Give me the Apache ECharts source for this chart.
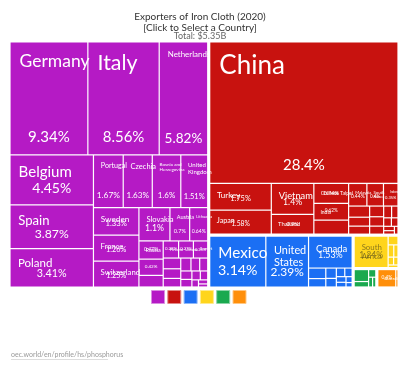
<!DOCTYPE html>
<html><head><meta charset="utf-8">
<script src="https://cdn.jsdelivr.net/npm/echarts@6/dist/echarts.min.js"></script>
<style>html,body{margin:0;padding:0;background:#fff}#c{width:400px;height:371px}</style>
</head><body><div id="c"></div>
<script>
// ---- data (share of exports, %) ----
const continentNames = ['Europe', 'Asia', 'North America', 'Africa', 'South America', 'Oceania'];
const continentColors = ['#b51ac5', '#c8120f', '#1b6ff4', '#ffd51c', '#1aa94f', '#ff8f0a'];
const continentTextColors = ['#ffffff', '#ffffff', '#ffffff', 'rgba(90,80,30,0.7)', '#ffffff', '#ffffff'];

const europeNames = ['Germany', 'Italy', 'Netherlands', 'Belgium', 'Spain', 'Poland', 'Portugal', 'Czechia',
  'Bosnia and Herzegovina', 'United Kingdom', 'Sweden', 'France', 'Switzerland', 'Slovakia', 'Austria',
  'Lithuania', 'Russia', 'Hungary', 'Slovenia', 'Finland', 'Ukraine', 'Denmark', 'Romania', 'Greece',
  'Croatia', 'Bulgaria', 'Serbia', 'Estonia', 'Latvia', 'Norway', 'Belarus', 'Ireland', 'North Macedonia',
  'Luxembourg', 'Albania'];
const europeValues = [9.34, 8.56, 5.82, 4.45, 3.87, 3.41, 1.67, 1.63, 1.6, 1.51, 1.33, 1.26, 1.25, 1.1, 0.7,
  0.64, 0.47, 0.42, 0.3, 0.28, 0.27, 0.26, 0.2, 0.18, 0.16, 0.14, 0.12, 0.11, 0.1, 0.09, 0.08, 0.07, 0.05,
  0.04, 0.03];

const asiaNames = ['China', 'Turkey', 'Japan', 'Vietnam', 'Thailand', 'Chinese Taipei', 'India',
  'United Arab Emirates', 'Malaysia', 'South Korea', 'Indonesia', 'Hong Kong', 'Israel', 'Saudi Arabia',
  'Pakistan', 'Philippines', 'Singapore', 'Bangladesh', 'Kazakhstan', 'Sri Lanka', 'Iran', 'Jordan',
  'Uzbekistan', 'Georgia'];
const asiaValues = [28.4, 1.75, 1.58, 1.4, 0.9, 0.74, 0.62, 0.52, 0.44, 0.4, 0.35, 0.25, 0.2, 0.18, 0.16,
  0.14, 0.12, 0.1, 0.08, 0.07, 0.06, 0.05, 0.04, 0.03];

const northAmericaNames = ['Mexico', 'United States', 'Canada', 'Guatemala', 'Dominican Republic',
  'Costa Rica', 'Honduras', 'El Salvador', 'Panama', 'Nicaragua', 'Jamaica', 'Trinidad and Tobago', 'Cuba'];
const northAmericaValues = [3.14, 2.39, 1.53, 0.2, 0.16, 0.12, 0.1, 0.08, 0.07, 0.06, 0.05, 0.04, 0.03];

const africaNames = ['South Africa', 'Egypt', 'Morocco', 'Tunisia', 'Kenya', 'Nigeria', 'Algeria'];
const africaValues = [1.24, 0.1, 0.08, 0.06, 0.05, 0.04, 0.03];

const southAmericaNames = ['Peru', 'Brazil', 'Chile', 'Colombia', 'Argentina'];
const southAmericaValues = [0.22, 0.1, 0.07, 0.05, 0.04];

const oceaniaNames = ['Australia', 'New Zealand'];
const oceaniaValues = [0.4, 0.05];

const titleLines = ['Exporters of Iron Cloth (2020)', '[Click to Select a Country]'];
const totalText = 'Total: $5.35B';
const sourceText = 'oec.world/en/profile/hs/phosphorus';

// ---- build ----
const groups = [
  [europeNames, europeValues], [asiaNames, asiaValues], [northAmericaNames, northAmericaValues],
  [africaNames, africaValues], [southAmericaNames, southAmericaValues], [oceaniaNames, oceaniaValues]
];
const FONT = 'Lato, "Noto Sans", sans-serif';
const ctx = document.createElement('canvas').getContext('2d');
ctx.font = '10px Lato';
function unitW(t) { return ctx.measureText(t).width / 10; }

function wrapWords(words, maxW) {
  const lines = [];
  let cur = '';
  words.forEach(w => {
    const cand = cur ? cur + ' ' + w : w;
    if (!cur || unitW(cand) <= maxW) cur = cand; else { lines.push(cur); cur = w; }
  });
  if (cur) lines.push(cur);
  return lines;
}

// compute label text / sizes from the rectangle laid out by echarts
function labelInfo(name, value, rect) {
  const w = rect ? rect.width : 30 * Math.sqrt(value);
  const h = rect ? rect.height : 30 * Math.sqrt(value);
  const m = Math.min(w, h);
  const pad = Math.max(1, Math.min(4, m * 0.06));
  const avail = w - 2 * pad;
  const vText = value + '%';
  let vfs = Math.min(15, 0.28 * m, avail / unitW(vText));
  const cap = Math.min(26, 0.3 * m);
  let fsA = Math.min(cap, avail / unitW(name));
  let text = name, lines = 1, fs = fsA;
  const words = name.split(' ');
  if (words.length > 1) {
    const longest = Math.max.apply(null, words.map(unitW));
    let fsB = Math.min(cap * 0.85, avail / longest);
    const wl = wrapWords(words, avail / fsB);
    if (fsB > fsA * 1.2) { fs = fsB; text = wl.join('\n'); lines = wl.length; }
  }
  const need = lines * fs * 1.1 + vfs + 3 * pad;
  if (need > h) {
    const k = h / need;
    fs *= k; vfs *= k;
  }
  return { text, fs, vfs, pad, show: value >= 0.25 && fs >= 2.5 };
}

function buildData(mode, layouts) {
  return continentNames.map((cn, ci) => {
    const [names, vals] = groups[ci];
    return {
      name: cn,
      itemStyle: { color: mode === 'name' ? continentColors[ci] : 'rgba(0,0,0,0)' },
      children: names.map((n, i) => {
        const v = vals[i];
        const info = labelInfo(n, v, layouts && layouts[n]);
        const fs = mode === 'name' ? info.fs : info.vfs;
        return {
          name: n,
          value: v,
          itemStyle: mode === 'name'
            ? { color: continentColors[ci] }
            : { color: 'rgba(0,0,0,0)', borderColor: 'rgba(0,0,0,0)' },
          label: {
            show: info.show,
            formatter: mode === 'name' ? info.text : v + '%',
            fontSize: fs,
            lineHeight: fs * 1.1,
            distance: info.pad,
            color: continentTextColors[ci]
          }
        };
      })
    };
  });
}

function seriesFor(mode, layouts) {
  const transparent = mode !== 'name';
  return {
    type: 'treemap',
    left: 10, top: 42, right: 2, bottom: 84,
    roam: false, nodeClick: false, silent: transparent,
    breadcrumb: { show: false },
    animation: false,
    label: {
      show: true,
      position: mode === 'name' ? 'insideTopLeft' : 'insideBottom',
      fontFamily: FONT,
      overflow: 'none',
      fontWeight: 'normal'
    },
    upperLabel: { show: false },
    emphasis: { disabled: true },
    levels: [
      { itemStyle: { gapWidth: 2, borderWidth: 0 } },
      { itemStyle: { gapWidth: 0, borderWidth: 0 } },
      { itemStyle: { borderWidth: 0.6, borderColor: transparent ? 'rgba(0,0,0,0)' : 'rgba(255,255,255,0.55)', gapWidth: 0 } }
    ],
    data: buildData(mode, layouts)
  };
}

const legendGraphics = continentColors.map((c, i) => ({
  type: 'rect',
  shape: { x: 151.5 + i * 16.3, y: 290.5, width: 13, height: 13 },
  style: { fill: c, stroke: echarts.color.lift(c, 0.5), lineWidth: 1 }
}));

const chart = echarts.init(document.getElementById('c'), null, { renderer: 'canvas' });
function makeOption(layouts) {
  return {
    backgroundColor: '#fff',
    animation: false,
    title: [
      { text: titleLines.join('\n'), left: 'center', top: 6,
        textStyle: { fontSize: 10, fontWeight: 'normal', color: '#333', lineHeight: 11, fontFamily: FONT } },
      { text: totalText, left: 'center', top: 26.5,
        textStyle: { fontSize: 9, fontWeight: 'normal', color: '#666', fontFamily: FONT } }
    ],
    series: [seriesFor('name', layouts), seriesFor('value', layouts)],
    graphic: legendGraphics.concat([
      { type: 'text', left: 11, top: 351,
        style: { text: sourceText, fontSize: 7, fill: '#9a9a9a', fontFamily: FONT } },
      { type: 'line', shape: { x1: 11, y1: 359.5, x2: 108, y2: 359.5 }, style: { stroke: '#bbb', lineWidth: 0.5 } }
    ])
  };
}
chart.setOption(makeOption(null));
// second pass: size labels from the rectangles that echarts laid out
try {
  const data = chart.getModel().getSeriesByIndex(0).getData();
  const layouts = {};
  for (let i = 0; i < data.count(); i++) {
    const l = data.getItemLayout(i);
    if (l) layouts[data.getName(i)] = { width: l.width, height: l.height };
  }
  chart.setOption(makeOption(layouts), true);
} catch (e) { console.error(e); }
</script>
</body></html>
